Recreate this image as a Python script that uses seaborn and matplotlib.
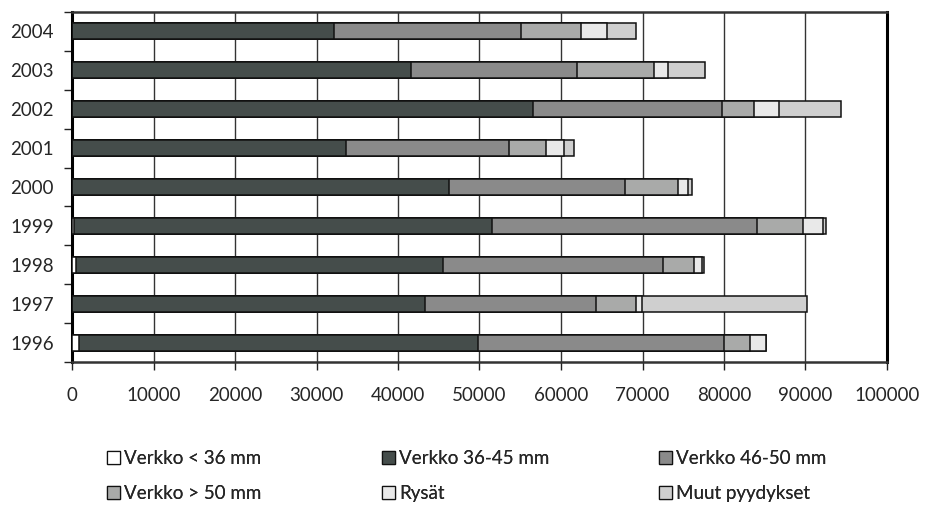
import numpy as np
import pandas as pd
import matplotlib
matplotlib.use("Agg")
import matplotlib.pyplot as plt
from matplotlib.patches import Patch
from matplotlib.ticker import FixedLocator
import seaborn as sns

years = ["2004", "2003", "2002", "2001", "2000", "1999", "1998", "1997", "1996"]
verkko_lt36 = [0, 0, 0, 0, 0, 250, 530, 0, 900]
verkko_36_45 = [32100, 41590, 56580, 33620, 46200, 51300, 44940, 43340, 48940]
verkko_46_50 = [22960, 20340, 23200, 19970, 21610, 32560, 27040, 20960, 30100]
verkko_gt50 = [7400, 9520, 3960, 4540, 6540, 5640, 3800, 4860, 3190]
rysat = [3190, 1670, 3030, 2240, 1220, 2450, 930, 780, 2080]
muut = [3590, 4540, 7630, 1190, 450, 320, 290, 20290, 0]

series_names = ["Verkko < 36 mm", "Verkko 36-45 mm", "Verkko 46-50 mm",
                "Verkko > 50 mm", "Rysät", "Muut pyydykset"]
series_vals = [verkko_lt36, verkko_36_45, verkko_46_50, verkko_gt50, rysat, muut]
colors = ["#ffffff", "#454d4b", "#8a8a8a", "#a9aaa9", "#e9e9e9", "#cfcfcf"]
xticks = [0, 10000, 20000, 30000, 40000, 50000, 60000, 70000, 80000, 90000, 100000]

sns.set_theme(style="white")
plt.rcParams["font.family"] = ["Lato", "DejaVu Sans"]

fig = plt.figure(figsize=(9.27, 5.05), dpi=100)
ax = fig.add_axes([72 / 927, 1 - 362 / 505, 815 / 927, 350 / 505])

cum = np.cumsum(np.array(series_vals, dtype=float), axis=0)
df = pd.DataFrame({"year": years})
for i in range(len(series_names) - 1, -1, -1):
    df["v"] = cum[i]
    sns.barplot(data=df, x="v", y="year", order=years, orient="h",
                color=colors[i], saturation=1, width=0.41,
                edgecolor="#111111", linewidth=1.1, ax=ax, zorder=3)

ax.set_xlim(0, 100000)
ax.set_ylim(len(years) - 0.5, -0.5)
ax.set_xticks(xticks)
ax.set_xticklabels([str(v) for v in xticks], fontsize=13.5)
ax.set_yticklabels(years, fontsize=13.5)
ax.set_xlabel("")
ax.set_ylabel("")

ax.xaxis.grid(True, color="#333333", linewidth=1.0, zorder=0)
ax.yaxis.grid(False)
ax.set_axisbelow(True)

ax.tick_params(axis="x", which="major", direction="out", length=6, width=1,
               color="#222222", pad=12, bottom=True)
ax.tick_params(axis="y", which="major", length=0, pad=13)
ax.yaxis.set_minor_locator(FixedLocator(np.arange(-0.5, len(years), 1.0)))
ax.tick_params(axis="y", which="minor", direction="out", length=6, width=1,
               color="#222222", left=True)

for side in ["left", "right"]:
    ax.spines[side].set_visible(True)
    ax.spines[side].set_color("black")
    ax.spines[side].set_linewidth(2.2)
for side in ["top", "bottom"]:
    ax.spines[side].set_visible(True)
    ax.spines[side].set_color("#333333")
    ax.spines[side].set_linewidth(1.8)

handles = [Patch(facecolor=c, edgecolor="#111111", linewidth=0.9) for c in colors]
col_x = [107, 382, 659]
for col in range(3):
    idx = [col, col + 3]
    leg = fig.legend([handles[i] for i in idx], [series_names[i] for i in idx],
                     ncol=1, loc="center left",
                     bbox_to_anchor=(col_x[col] / 927, 1 - 476 / 505),
                     frameon=False, fontsize=13.5, handlelength=0.7,
                     handleheight=0.7, handletextpad=0.2, labelspacing=0.95,
                     borderpad=0, borderaxespad=0)
    fig.add_artist(leg)

fig.savefig("out.png", dpi=100)
